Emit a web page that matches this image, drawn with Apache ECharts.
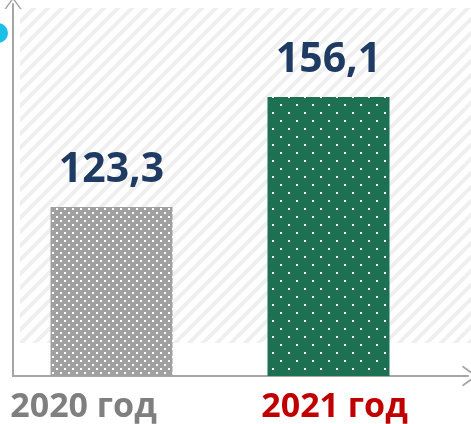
<!DOCTYPE html>
<html>
<head>
<meta charset="utf-8">
<script src="https://cdn.jsdelivr.net/npm/echarts@6/dist/echarts.min.js"></script>
<style>
  html, body { margin: 0; padding: 0; background: #fff; }
  #chart { width: 471px; height: 424px; }
</style>
</head>
<body>
<div id="chart"></div>
<script>
// 数据
let categories = ["2020 год", "2021 год"];
let values = [123.3, 156.1];
let labelColors = ["#7F7F7F", "#C00000"];

// 点状填充
function dotPattern(bg, size, step) {
  const c = document.createElement("canvas");
  c.width = size;
  c.height = size;
  const ctx = c.getContext("2d");
  ctx.fillStyle = bg;
  ctx.fillRect(0, 0, size, size);
  ctx.fillStyle = "#ffffff";
  ctx.fillRect(0, 0, 2, 2);
  ctx.fillRect(step, step, 2, 2);
  return c;
}

// 斜线背景
function stripePattern() {
  const c = document.createElement("canvas");
  c.width = 14;
  c.height = 14;
  const ctx = c.getContext("2d");
  ctx.fillStyle = "#ffffff";
  ctx.fillRect(0, 0, 14, 14);
  ctx.strokeStyle = "#efefef";
  ctx.lineWidth = 4;
  for (let k = -1; k <= 1; k++) {
    ctx.beginPath();
    ctx.moveTo(-2 + k * 14, 16);
    ctx.lineTo(16 + k * 14, -2);
    ctx.stroke();
  }
  return c;
}

let barFills = [
  { image: dotPattern("#A0A0A0", 8, 4), repeat: "repeat" },
  { image: dotPattern("#1E7052", 16, 8), repeat: "repeat" },
];

let chart = echarts.init(document.getElementById("chart"));

let option = {
  animation: false,
  graphic: [
    {
      type: "rect",
      z: -10,
      shape: { x: 20, y: 8, width: 451, height: 335 },
      style: { fill: { image: stripePattern(), repeat: "repeat" } },
    },
    {
      type: "circle",
      shape: { cx: -2, cy: 33, r: 10 },
      style: { fill: "#1BC0E8" },
    },
  ],
  grid: [
    { left: 3, width: 434, top: 10, bottom: 48 },
    { left: 13, right: 3, top: 4, bottom: 48 },
  ],
  xAxis: [
    {
      type: "category",
      data: categories.map((name, i) => ({
        value: name,
        textStyle: {
          color: labelColors[i],
          padding: i === 0 ? [0, 56, 0, 0] : [0, 0, 0, 12],
        },
      })),
      axisLine: { show: false },
      axisTick: { show: false },
      axisLabel: {
        fontFamily: "Open Sans",
        fontWeight: "bold",
        fontSize: 34,
        margin: 14,
      },
    },
    {
      gridIndex: 1,
      type: "value",
      min: 0,
      max: 1,
      axisLine: {
        show: true,
        symbol: ["none", "path://M0,14 L10,0 L20,14 L18,14 L10,3 L2,14 Z"],
        symbolSize: [22, 15],
        symbolOffset: [0, 2],
        lineStyle: { color: "#A6A6A6", width: 2 },
      },
      axisTick: { show: false },
      axisLabel: { show: false },
      splitLine: { show: false },
    },
  ],
  yAxis: [
    {
      type: "value",
      min: 73,
      max: 182,
      show: false,
      splitLine: { show: false },
    },
    {
      gridIndex: 1,
      type: "value",
      min: 0,
      max: 1,
      axisLine: {
        show: true,
        symbol: ["none", "path://M0,14 L10,0 L20,14 L18,14 L10,3 L2,14 Z"],
        symbolSize: [18, 12],
        symbolOffset: [0, 1],
        lineStyle: { color: "#A6A6A6", width: 2 },
      },
      axisTick: { show: false },
      axisLabel: { show: false },
      splitLine: { show: false },
    },
  ],
  series: [
    {
      type: "bar",
      barWidth: 122,
      data: values.map((v, i) => ({ value: v, itemStyle: { color: barFills[i] } })),
      label: {
        show: true,
        position: "top",
        distance: 16,
        color: "#1F3B63",
        fontFamily: "Open Sans",
        fontWeight: "bold",
        fontSize: 41,
        formatter: (p) => String(p.value).replace(".", ","),
      },
    },
  ],
};

chart.setOption(option);
</script>
</body>
</html>
